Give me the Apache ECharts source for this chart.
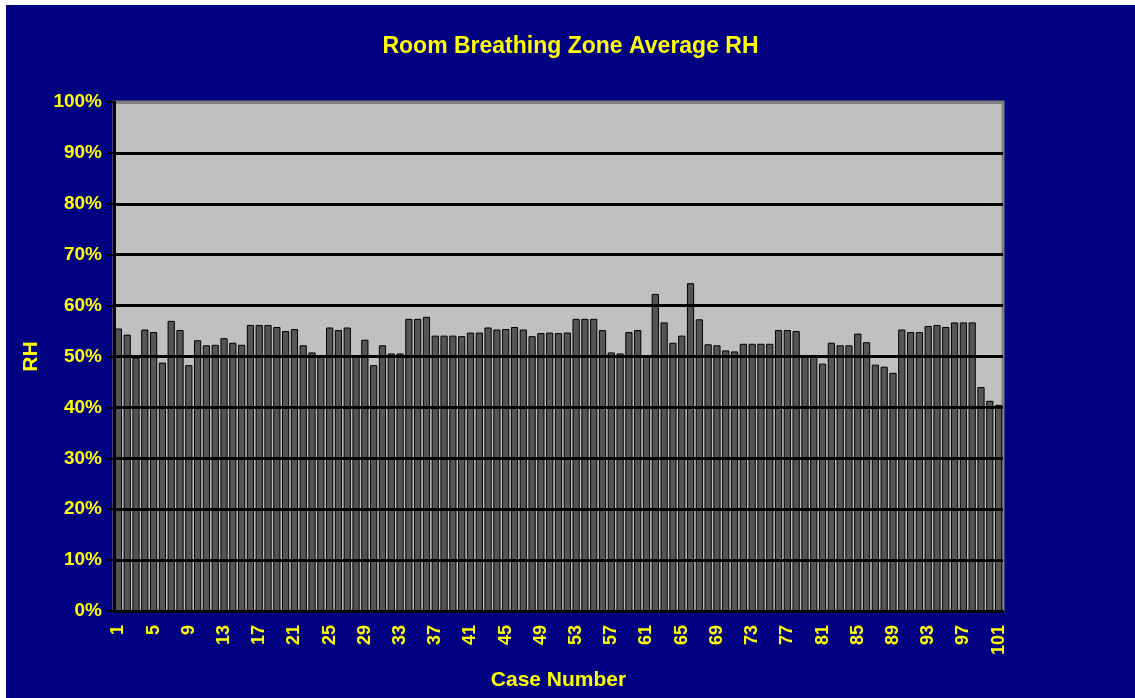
<!DOCTYPE html>
<html>
<head>
<meta charset="utf-8">
<title>Room Breathing Zone Average RH</title>
<script src="https://cdn.jsdelivr.net/npm/echarts@6/dist/echarts.min.js"></script>
<style>
  html, body { margin: 0; padding: 0; background: #ffffff; }
  #chart { position: absolute; left: 6px; top: 5px; width: 1129px; height: 693px; background: #000080; }
</style>
</head>
<body>
<div id="chart"></div>
<script>
// case numbers 1..101
var caseNumbers = ['1','2','3','4','5','6','7','8','9','10','11','12','13','14','15','16','17','18','19','20',
  '21','22','23','24','25','26','27','28','29','30','31','32','33','34','35','36','37','38','39','40',
  '41','42','43','44','45','46','47','48','49','50','51','52','53','54','55','56','57','58','59','60',
  '61','62','63','64','65','66','67','68','69','70','71','72','73','74','75','76','77','78','79','80',
  '81','82','83','84','85','86','87','88','89','90','91','92','93','94','95','96','97','98','99','100','101']

// average RH per case, in %
var avgRH = [55.5, 54.3, 49.8, 55.3, 54.8, 48.8, 57.0, 55.2, 48.3, 53.2,
  52.2, 52.3, 53.6, 52.7, 52.3, 56.2, 56.2, 56.2, 55.8, 55.0,
  55.4, 52.2, 50.8, 50.0, 55.7, 55.2, 55.7, 50.0, 53.3, 48.3,
  52.2, 50.6, 50.6, 57.4, 57.4, 57.8, 54.1, 54.1, 54.1, 54.0,
  54.7, 54.7, 55.7, 55.3, 55.4, 55.8, 55.3, 54.0, 54.6, 54.7,
  54.6, 54.7, 57.4, 57.4, 57.4, 55.2, 50.8, 50.6, 54.8, 55.2,
  50.0, 62.3, 56.7, 52.7, 54.1, 64.4, 57.3, 52.4, 52.2, 51.2,
  51.0, 52.5, 52.5, 52.5, 52.5, 55.2, 55.2, 55.0, 50.3, 50.3,
  48.6, 52.7, 52.2, 52.2, 54.5, 52.8, 48.4, 48.0, 46.8, 55.3,
  54.8, 54.8, 56.0, 56.2, 55.8, 56.7, 56.7, 56.7, 44.0, 41.3, 40.5]

var yTicks = [0, 10, 20, 30, 40, 50, 60, 70, 80, 90, 100]

var yellow = '#ffff00'
var font = '"Liberation Sans", Arial, sans-serif'

var myChart = echarts.init(document.getElementById('chart'))
var option = {
  animation: false,
  backgroundColor: '#000080',
  title: {
    text: 'Room Breathing Zone Average RH',
    left: 'center',
    top: 25,
    textStyle: { color: yellow, fontSize: 23, fontWeight: 'bold', fontFamily: font }
  },
  grid: {
    left: 108,
    right: 132,
    top: 97,
    bottom: 87,
    show: true,
    backgroundColor: '#c0c0c0',
    borderColor: '#808080',
    borderWidth: 3
  },
  xAxis: {
    type: 'category',
    data: caseNumbers,
    name: 'Case Number',
    nameLocation: 'middle',
    nameGap: 59,
    nameTextStyle: { color: yellow, fontSize: 21, fontWeight: 'bold', fontFamily: font },
    axisLine: { lineStyle: { color: '#000000', width: 3 } },
    axisTick: { interval: 0, length: 6, lineStyle: { color: '#000000', width: 2 } },
    axisLabel: {
      interval: 3,
      rotate: 90,
      margin: 14,
      color: yellow,
      fontSize: 18,
      fontWeight: 'bold',
      fontFamily: font
    },
    splitLine: { show: false }
  },
  yAxis: {
    type: 'value',
    min: yTicks[0],
    max: yTicks[yTicks.length - 1],
    interval: 10,
    z: 3,
    name: 'RH',
    nameLocation: 'middle',
    nameRotate: 90,
    nameGap: 72,
    nameTextStyle: { color: yellow, fontSize: 21, fontWeight: 'bold', fontFamily: font },
    axisLine: { show: true, lineStyle: { color: '#000000', width: 3 } },
    axisTick: { show: true, length: 7, lineStyle: { color: '#000000', width: 2 } },
    axisLabel: {
      margin: 12,
      color: yellow,
      fontSize: 19,
      fontWeight: 'bold',
      fontFamily: font,
      formatter: '{value}%'
    },
    splitLine: {
      lineStyle: {
        // last line sits on the grey plot border
        color: ['#000', '#000', '#000', '#000', '#000', '#000', '#000', '#000', '#000', '#000', '#808080'],
        width: 3
      }
    }
  },
  series: [
    {
      name: 'Average RH',
      type: 'bar',
      data: avgRH,
      barCategoryGap: '18%',
      itemStyle: {
        color: '#555555',
        borderColor: '#000000',
        borderWidth: 1
      }
    }
  ]
}
myChart.setOption(option)
</script>
</body>
</html>
